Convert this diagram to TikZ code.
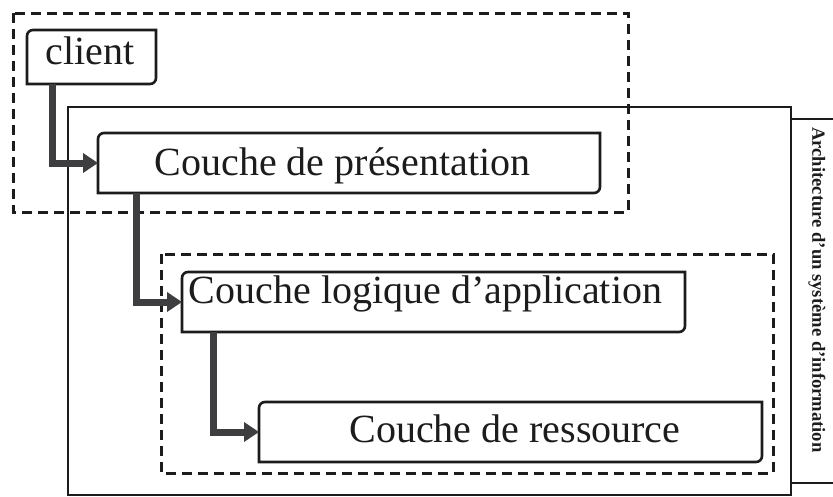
\documentclass[tikz,border=0pt]{standalone}
\usepackage{fontspec}
\setmainfont{Liberation Serif}
\usetikzlibrary{arrows.meta}
\definecolor{ink}{HTML}{1C1C1C}
\definecolor{linkgray}{HTML}{3E3E40}

% Outline of a layer box: top-left and bottom-right corners rounded
\newcommand\layeroutline[1]{%
  \draw[frame]
    (#1.south west) -- ([yshift=-6pt]#1.north west)
    arc[start angle=180, end angle=90, radius=6pt]
    -- (#1.north east) -- ([yshift=6pt]#1.south east)
    arc[start angle=0, end angle=-90, radius=6pt]
    -- cycle;}

\begin{document}
\begin{tikzpicture}[x=1pt, y=-1pt,
  frame/.style={draw=ink, line width=2.6pt},
  dashframe/.style={draw=ink, line width=3pt, dash pattern=on 10pt off 6pt},
  layerbox/.style={draw=none, inner sep=0pt, outer sep=0pt},
  txt/.style={inner sep=0pt, text=ink, font=\fontsize{40pt}{48pt}\selectfont},
  title/.style={inner sep=0pt, text=ink, font=\bfseries\fontsize{18.6pt}{22pt}\selectfont},
  link/.style={draw=linkgray, line width=7pt,
    -{Triangle[length=15pt, width=19pt]}}]

\useasboundingbox (0,0) rectangle (833,496);

% system frame and its title strip
\draw[frame] (68,107) rectangle (791,495);
\draw[frame] (834,119) -- (791,119) -- (791,483) -- (834,483);
\node[title, rotate=-90] (arch) at (817,290) {Architecture d’un système d’information};

% dashed groupings
\draw[dashframe] (13,13) rectangle (628,212);
\draw[dashframe] (161,254) rectangle (773,473);

% layer boxes
\node[layerbox, minimum width=129pt, minimum height=54pt] (client) at (91.5,57) {};
\node[layerbox, minimum width=502pt, minimum height=60pt] (pres) at (349,163) {};
\node[layerbox, minimum width=503pt, minimum height=60pt] (logic) at (433.5,302) {};
\node[layerbox, minimum width=503pt, minimum height=60pt] (res) at (510.5,432) {};

\fill[white] (client.south west) rectangle (client.north east);
\fill[white] (pres.south west) rectangle (pres.north east);
\fill[white] (logic.south west) rectangle (logic.north east);
\fill[white] (res.south west) rectangle (res.north east);

\layeroutline{client}
\layeroutline{pres}
\layeroutline{logic}
\layeroutline{res}

% labels
\node[txt, anchor=base] (clientT) at (90,64) {client};
\node[txt, anchor=base] (presT) at (342.5,175) {Couche de présentation};
\node[txt, anchor=base] (logicT) at (425.5,303) {Couche logique d’application};
\node[txt, anchor=base] (resT) at (515,442) {Couche de ressource};

% connectors between layers
\draw[link] ([xshift=25pt]client.south west) |- (pres.west);
\draw[link] ([xshift=38pt]pres.south west) |- (logic.west);
\draw[link] ([xshift=31pt]logic.south west) |- (res.west);

\end{tikzpicture}
\end{document}
